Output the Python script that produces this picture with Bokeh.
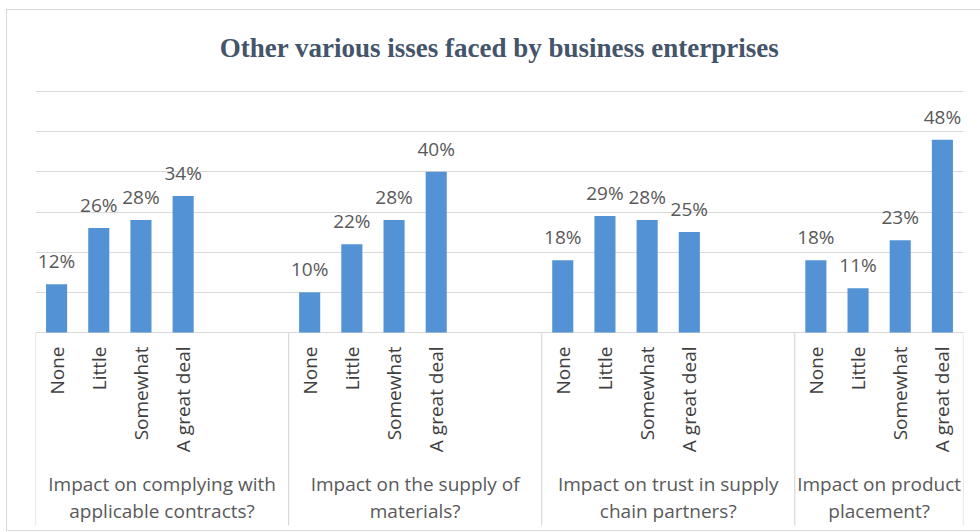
import math
from bokeh.plotting import figure
from bokeh.models import FactorRange, ColumnDataSource, FixedTicker, Grid, Range1d
from bokeh.core.properties import value
from bokeh.embed import file_html
from bokeh.resources import INLINE

# ---------------- data ----------------
title_text = "Other various isses faced by business enterprises"
groups = [
    "Impact on complying with\napplicable contracts?",
    "Impact on the supply of\nmaterials?",
    "Impact on trust in supply\nchain partners?",
    "Impact on product\nplacement?",
]
levels = ["None", "Little", "Somewhat", "A great deal"]
complying = [12, 26, 28, 34]
supply = [10, 22, 28, 40]
trust = [18, 29, 28, 25]
placement = [18, 11, 23, 48]
y_ticks = [0, 10, 20, 30, 40, 50, 60]

# ---------------- layout constants ----------------
group_slots = [6, 6, 6, 4]   # category slots per group (empty ones are blank)
y_top = 62
y_bottom = -48.3

series = [complying, supply, trust, placement]

factors = []
for g, n in zip(groups, group_slots):
    for lv in levels:
        factors.append((g, lv))
    for k in range(n - len(levels)):
        factors.append((g, " " * (k + 1)))

bar_x, bar_v, bar_lbl, tick_txt = [], [], [], []
for g, vals in zip(groups, series):
    for lv, v in zip(levels, vals):
        bar_x.append((g, lv))
        bar_v.append(v)
        bar_lbl.append(f"{v}%")
        tick_txt.append(lv)

bars = ColumnDataSource(dict(x=bar_x, top=bar_v, label=bar_lbl, tick=tick_txt))

p = figure(
    width=980, height=520,
    x_range=FactorRange(*factors, group_padding=0, subgroup_padding=0, range_padding=0),
    y_range=Range1d(y_bottom, y_top),
    x_axis_location=None, y_axis_location=None,
    output_backend="svg", toolbar_location=None,
    title=title_text,
    min_border_left=28, min_border_right=24, min_border_top=73, min_border_bottom=4,
)
p.margin = (10, 0, 0, 7)
p.styles = {"outline": "1px solid #d9d9d9"}
p.outline_line_color = None
p.background_fill_color = "white"
p.border_fill_color = "white"
p.grid.visible = False
p.add_layout(Grid(dimension=1, ticker=FixedTicker(ticks=y_ticks),
                  grid_line_color="#d9d9d9", grid_line_width=1.2))

p.title.align = "center"
p.title.text_font = "Liberation Serif"
p.title.text_font_style = "bold"
p.title.text_font_size = "27px"
p.title.text_color = "#44546A"
p.title.standoff = 41

# bars
p.vbar(x="x", top="top", bottom=0, width=0.5, source=bars,
       fill_color="#5393d5", line_color=None)

# data labels
p.text(x="x", y="top", text="label", source=bars,
       text_align="center", text_baseline="bottom", y_offset=-10,
       text_font=value("Open Sans"), text_font_size="19px", text_color="#595959")

# category tick labels (vertical)
p.text(x="x", y=0, text="tick", source=bars, angle=math.pi / 2,
       text_align="right", text_baseline="middle", y_offset=14,
       text_font=value("Open Sans"), text_font_size="19px", text_color="#404040")

# group dividers
div_x = [(g, levels[0], -0.5) for g in groups] + [(groups[-1], levels[-1], 0.5)]
p.segment(x0=div_x, y0=[0] * len(div_x), x1=div_x, y1=[y_bottom + 0.3] * len(div_x),
          line_color="#d9d9d9", line_width=1.2)

# group labels
p.text(x=groups, y=[0] * len(groups), text=groups,
       text_align="center", text_baseline="top", y_offset=138, text_line_height=1.05,
       text_font=value("Open Sans"), text_font_size="19px", text_color="#595959")

open("out.html", "w").write(file_html(p, INLINE))
